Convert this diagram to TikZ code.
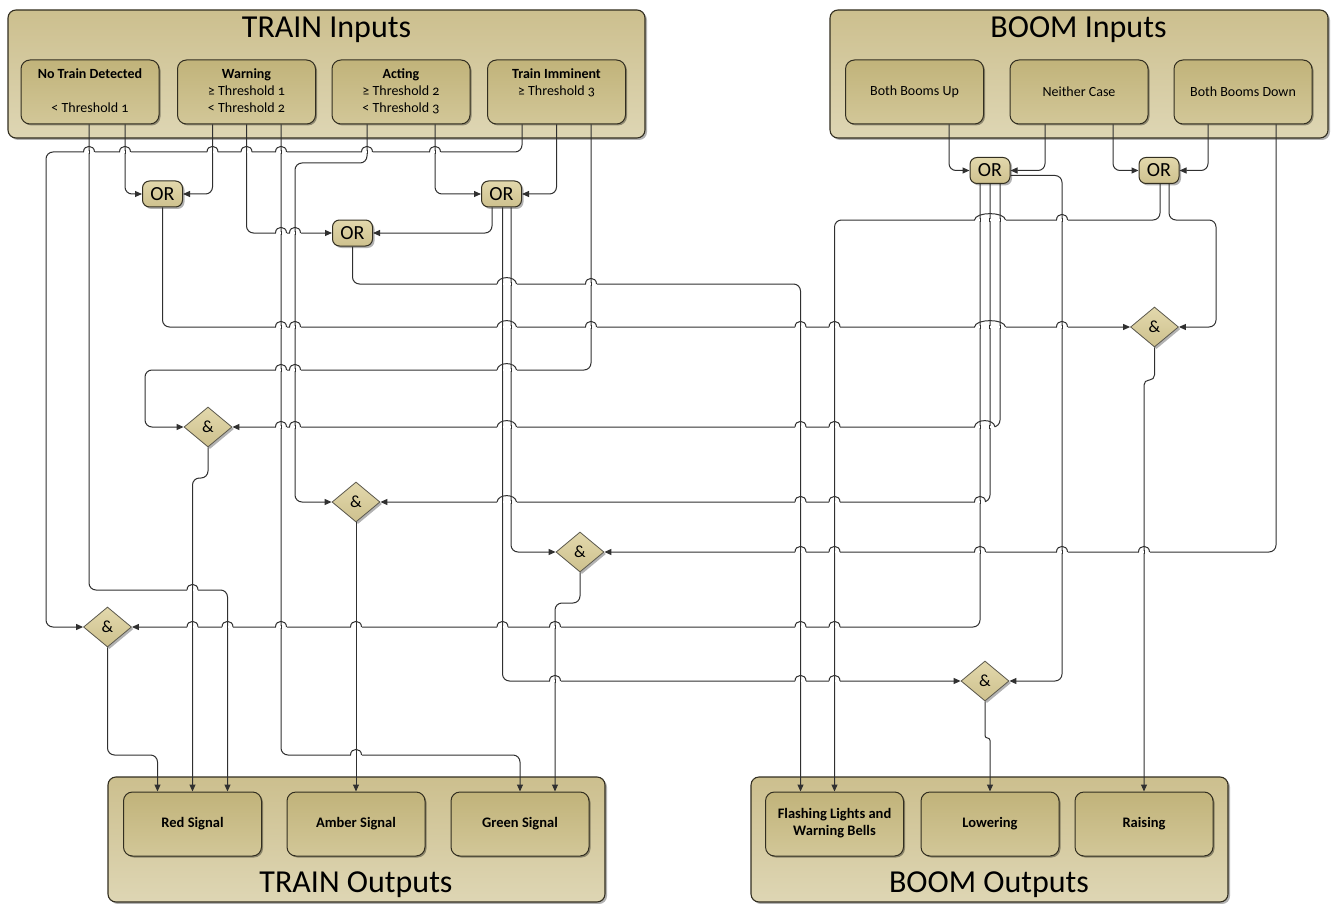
\documentclass[tikz,border=0pt]{standalone}
\usepackage{fontspec}
\setmainfont{Carlito}[Numbers=OldStyle]
\usetikzlibrary{arrows.meta,shapes.geometric,shadows}
\definecolor{wirec}{RGB}{48,48,48}
\definecolor{edgec}{RGB}{50,46,32}
\definecolor{contT}{RGB}{204,191,142}
\definecolor{contB}{RGB}{222,214,180}
\definecolor{boxT}{RGB}{193,179,122}
\definecolor{boxB}{RGB}{210,199,152}
\definecolor{gateT}{RGB}{226,216,172}
\definecolor{gateB}{RGB}{206,193,142}
% single line jump: x, y
\newcommand{\myhop}[2]{%
  \fill[white] (#1-5.5,#2-1) rectangle (#1+5.5,#2+1);
  \draw[wire] (#1,#2-2) -- (#1,#2+2);
  \draw[wire] (#1-5.5,#2) .. controls (#1-5.5,#2-7.5) and (#1+5.5,#2-7.5) .. (#1+5.5,#2);
}
% wide line jump over several lines: xmin, xmax, y, list of x
\newcommand{\myhopw}[4]{%
  \fill[white] (#1-5.5,#3-1) rectangle (#2+5.5,#3+1);
  \foreach \vx in {#4} {\draw[wire] (\vx,#3-2) -- (\vx,#3+2);}
  \draw[wire] (#1-5.5,#3) .. controls (#1-4.5,#3-8.5) and (#2+4.5,#3-8.5) .. (#2+5.5,#3);
}
\begin{document}
\begin{tikzpicture}[x=1pt,y=-1pt,
  wire/.style={draw=wirec, line width=1pt},
  conn/.style={wire, rounded corners=7pt, -{Triangle[length=7pt,width=6pt]}},
  container/.style={draw=edgec, line width=1.1pt, rounded corners=8pt, top color=contT, bottom color=contB,
    inner sep=0pt, drop shadow={shadow xshift=2pt, shadow yshift=-2pt, opacity=.3, fill=black}},
  titletext/.style={anchor=base, inner sep=0pt, font=\fontsize{32}{36}\selectfont},
  inbox/.style={draw=edgec, line width=1pt, rounded corners=9pt, top color=boxT, bottom color=boxB,
    minimum width=138pt, minimum height=64pt, inner sep=0pt, align=center,
    font=\fontsize{14}{17}\selectfont,
    drop shadow={shadow xshift=1.5pt, shadow yshift=-1.5pt, opacity=.35, fill=black}},
  outbox/.style={inbox, font=\bfseries\fontsize{14.5}{17}\selectfont},
  orgate/.style={draw=edgec, line width=1pt, rounded corners=7pt, top color=gateT, bottom color=gateB,
    minimum width=40pt, minimum height=26pt, inner sep=0pt, font=\fontsize{20}{20}\selectfont,
    drop shadow={shadow xshift=2pt, shadow yshift=-2pt, opacity=.3, fill=black}},
  andgate/.style={diamond, draw=edgec!80, line width=0.8pt, top color=gateT, bottom color=gateB,
    minimum width=48pt, minimum height=40pt, inner sep=0pt, font=\fontsize{17}{17}\selectfont,
    drop shadow={shadow xshift=2pt, shadow yshift=-2pt, opacity=.3, fill=black}}
]
\useasboundingbox (0,0) rectangle (1338,904);

% ---------- containers ----------
\node[container, minimum width=637pt, minimum height=128pt] (TI) at (326.5,74) {};
\node[titletext] (TIt) at (326.5,38) {TRAIN Inputs};
\node[container, minimum width=498pt, minimum height=128pt] (BI) at (1079,74) {};
\node[titletext] (BIt) at (1078.5,38) {BOOM Inputs};
\node[container, minimum width=497pt, minimum height=125pt] (TO) at (356.5,839.5) {};
\node[titletext] (TOt) at (356,892) {TRAIN Outputs};
\node[container, minimum width=477pt, minimum height=125pt] (BO) at (989.5,839.5) {};
\node[titletext] (BOt) at (989,892) {BOOM Outputs};

% ---------- input boxes ----------
\node[inbox] (A) at (90,92) {\strut\textbf{No Train Detected}\\\strut\\\strut< Threshold 1};
\node[inbox] (B) at (246.5,92) {\strut\textbf{Warning}\\\strut≥ Threshold 1\\\strut< Threshold 2};
\node[inbox] (C) at (401,92) {\strut\textbf{Acting}\\\strut≥ Threshold 2\\\strut< Threshold 3};
\node[inbox] (D) at (556.5,92) {\strut\textbf{Train Imminent}\\\strut≥ Threshold 3\\\strut};
\node[inbox] (BBU) at (914.5,92) {Both Booms Up};
\node[inbox] (NC) at (1079,92) {Neither Case};
\node[inbox] (BBD) at (1243,92) {Both Booms Down};

% ---------- output boxes ----------
\node[outbox] (RS) at (192.5,824) {Red Signal};
\node[outbox] (AM) at (356,824) {Amber Signal};
\node[outbox] (GS) at (520,824) {Green Signal};
\node[outbox] (FL) at (834.5,824) {\strut Flashing Lights and\\\strut Warning Bells};
\node[outbox] (LW) at (990,824) {Lowering};
\node[outbox] (RA) at (1144,824) {Raising};

% ---------- gates ----------
\node[orgate] (OR1) at (162.5,194) {OR};
\node[orgate] (OR2) at (501.5,194) {OR};
\node[orgate] (OR3) at (352.5,233) {OR};
\node[orgate] (OR4) at (990,170.5) {OR};
\node[orgate] (OR5) at (1159,170.5) {OR};
\node[andgate] (AND1) at (208,427) {\&};
\node[andgate] (AND2) at (356,502) {\&};
\node[andgate] (AND3) at (580,552) {\&};
\node[andgate] (AND4) at (107.5,627) {\&};
\node[andgate] (AND5) at (1154.5,327) {\&};
\node[andgate] (AND6) at (985,681) {\&};

% ---------- connectors ----------
\draw[conn] ([xshift=35pt]A.south) |- (OR1.west);
\draw[conn] ([xshift=-34pt]B.south) |- (OR1.east);
\draw[conn] ([xshift=34pt]C.south) |- (OR2.west);
\draw[conn] (D.south) |- (OR2.east);
\draw[conn] (B.south) |- (OR3.west);
\draw[conn] ([xshift=-9.5pt]OR2.south) |- (OR3.east);
\draw[conn] ([xshift=-34.5pt]D.south) |- (46,152) |- (AND4.west);
\draw[conn] ([xshift=-34pt]C.south) |- (295,163) |- (AND2.west);
\draw[conn] ([xshift=-1pt]A.south) |- (227.5,590) -- ([xshift=35pt]RS.north);
\draw[conn] ([xshift=34.5pt]B.south) |- (520,755) -- (GS.north);
\draw[conn] (OR1.south) |- (AND5.west);
\draw[conn] (OR3.south) |- (800.5,284) -- ([xshift=-34pt]FL.north);
\draw[conn] ([xshift=34.5pt]D.south) |- (145,370) |- (AND1.west);
\draw[conn] (AND1.south) -- (208,478) -| (RS.north);
\draw[conn] ([xshift=10pt]OR4.south) |- (AND1.east);
\draw[conn] (OR4.south) |- (AND2.east);
\draw[conn] ([xshift=-10pt]OR4.south) |- (AND4.east);
\draw[conn] (AND2.south) -- (AM.north);
\draw[conn] ([xshift=9.5pt]OR2.south) |- (AND3.west);
\draw[conn] ([xshift=1pt]OR2.south) |- (AND6.west);
\draw[conn] ([xshift=33pt]BBD.south) |- (AND3.east);
\draw[conn] (AND3.south) -- (580,603) -| ([xshift=35pt]GS.north);
\draw[conn] (AND4.south) |- (157.5,755) -- ([xshift=-35pt]RS.north);
\draw[conn] ([yshift=-5pt]OR4.east) -| (1062,681) -- (AND6.east);
\draw[conn, rounded corners=2.5pt] (AND6.south) -- (985,738) -| (LW.north);
\draw[conn] ([xshift=34.5pt]BBU.south) |- (OR4.west);
\draw[conn] ([xshift=-34pt]NC.south) |- (OR4.east);
\draw[conn] ([xshift=34pt]NC.south) |- (OR5.west);
\draw[conn] ([xshift=-35pt]BBD.south) |- (OR5.east);
\draw[conn] ([xshift=1pt]OR5.south) |- (834.5,220) -- (FL.north);
\draw[conn] ([xshift=10pt]OR5.south) |- (1216,220) |- (AND5.east);
\draw[conn, rounded corners=5pt] (AND5.south) -- (1154.5,380) -| (RA.north);

% ---------- line jumps ----------
\foreach \x in {89,125,212.5,246.5,281,367,435} {\myhop{\x}{152}}
\foreach \x in {281,295} {\myhop{\x}{233}}
\foreach \x in {281,295,591,800.5,834.5,1062} {\myhop{\x}{327}}
\myhopw{502.5}{511}{327}{502.5,511}
\myhopw{980}{1000}{327}{980,989.5,1000}
\myhopw{502.5}{511}{284}{502.5,511}
\myhop{591}{284}
\foreach \x in {281,295} {\myhop{\x}{370}}
\myhopw{502.5}{511}{370}{502.5,511}
\foreach \x in {281,295,800.5,834.5} {\myhop{\x}{427}}
\myhopw{502.5}{511}{427}{502.5,511}
\myhopw{980}{989.5}{427}{980,989.5}
\myhopw{502.5}{511}{502}{502.5,511}
\foreach \x in {800.5,834.5,980} {\myhop{\x}{502}}
\foreach \x in {192.5,227.5,281,356,502.5,555,800.5,834.5} {\myhop{\x}{627}}
\myhop{192.5}{590}
\myhop{356}{755}
\foreach \x in {555,800.5,834.5} {\myhop{\x}{681}}
\foreach \x in {800.5,834.5,980,1062,1144} {\myhop{\x}{552}}
\myhopw{980}{1000}{220}{980,989.5,1000}
\myhop{1062}{220}
\end{tikzpicture}
\end{document}
